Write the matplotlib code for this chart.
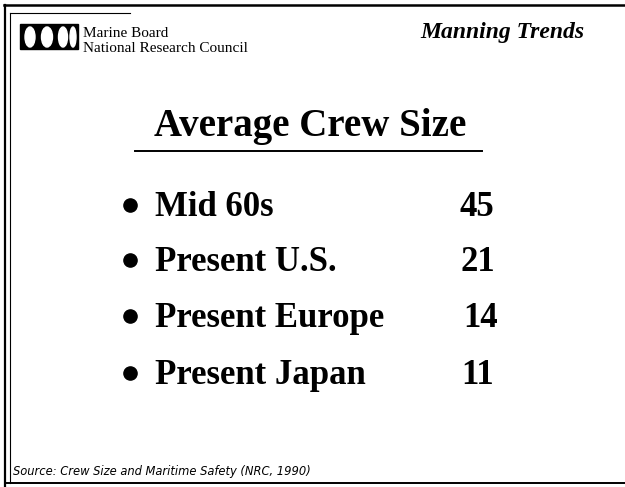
import matplotlib
matplotlib.use("Agg")
import matplotlib.pyplot as plt
from matplotlib.patches import Rectangle, Ellipse

# %%
categories = ["Mid 60s", "Present U.S.", "Present Europe", "Present Japan"]
crew_size = [45, 21, 14, 11]
title = "Average Crew Size"
header_right = "Manning Trends"
org_lines = ["Marine Board", "National Research Council"]
source = "Source: Crew Size and Maritime Safety (NRC, 1990)"

# %%
fig = plt.figure(figsize=(6.25, 4.87), dpi=100)
ax = fig.add_axes([0, 0, 1, 1])
ax.set_xlim(0, 625)
ax.set_ylim(487, 0)
ax.axis("off")

serif = "Liberation Serif"

# frame (double line on the top-left corner)
ax.plot([4, 625], [5, 5], color="black", lw=1.8)
ax.plot([5, 5], [5, 487], color="black", lw=1.6)
ax.plot([10, 130], [13, 13], color="black", lw=0.8)
ax.plot([10, 10], [13, 483], color="black", lw=0.8)
ax.plot([5, 625], [483, 483], color="black", lw=1.4)

# header logo + organisation
ax.add_patch(Rectangle((20, 24), 58, 25, color="black"))
for cx, w in [(30, 10), (47, 11), (63, 9), (73, 6)]:
    ax.add_patch(Ellipse((cx, 37), w, 20, color="white"))
ax.text(83, 37, org_lines[0], fontsize=11, family=serif, va="baseline")
ax.text(83, 52, org_lines[1], fontsize=11, family=serif, va="baseline")
ax.text(502, 38, header_right, fontsize=17, family=serif, weight="bold",
        style="italic", ha="center", va="baseline")

# title
ax.text(310, 136, title, fontsize=28, family=serif, weight="bold",
        ha="center", va="baseline")
ax.plot([135, 482], [151, 151], color="black", lw=1.4)

# rows
row_y = [205, 260, 316, 373]
num_x = [460, 460, 463, 461]
for y, label, val, nx in zip(row_y, categories, crew_size, num_x):
    ax.plot(130, y, "o", color="black", markersize=9.5)
    ax.text(155, y + 11, label, fontsize=25, family=serif, weight="bold",
            va="baseline")
    ax.text(nx, y + 11, str(val), fontsize=25, family=serif, weight="bold",
            va="baseline")

ax.text(13, 472, source, fontsize=8.3, style="italic",
        family="DejaVu Sans", va="center")

fig.savefig("out.png", dpi=100)
